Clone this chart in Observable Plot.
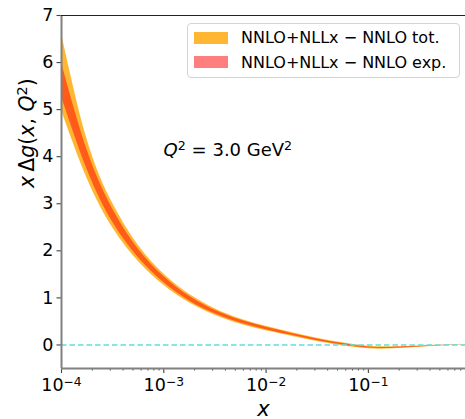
<!DOCTYPE html>
<html><head><meta charset="utf-8">
<script src="https://cdn.jsdelivr.net/npm/d3@7"></script>
<script src="https://cdn.jsdelivr.net/npm/@observablehq/plot@0.6"></script>
<style>
body{margin:0;background:#fff;}
#wrap{position:relative;width:465px;height:419px;font-family:"DejaVu Sans";overflow:hidden;}
#legend{position:absolute;left:187px;top:23px;width:273px;height:55px;border:1px solid #d4d4d4;border-radius:4px;background:rgba(255,255,255,0.8);box-sizing:border-box;}
.row{position:absolute;left:0;height:13px;display:flex;align-items:center;font-size:16px;white-space:nowrap;color:#000;}
.sw{width:34px;height:12px;margin-left:6px;margin-right:13px;flex:none;}
</style></head>
<body><div id="wrap"><div id="legend"></div></div>
<script>
// ---- data ----
const xs     = [1e-4, 1.78e-4, 3.16e-4, 5.62e-4, 1e-3, 1.78e-3, 3.16e-3, 5.62e-3, 1e-2, 1.78e-2, 3.16e-2, 5.62e-2, 1e-1, 1.78e-1, 3.16e-1, 5.62e-1, 1];
const totLo  = [4.98, 3.535, 2.49, 1.78, 1.27, 0.895, 0.63, 0.441, 0.303, 0.185, 0.075, -0.016, -0.083, -0.082, -0.05, -0.018, -0.002];
const totHi  = [6.62, 4.365, 3.01, 2.12, 1.51, 1.075, 0.77, 0.553, 0.397, 0.265, 0.145, 0.046, -0.027, -0.038, -0.02, -0.002, 0.002];
const expLo  = [5.28, 3.73, 2.61, 1.86, 1.325, 0.935, 0.662, 0.466, 0.325, 0.204, 0.092, 0.000, -0.067, -0.07, -0.042, -0.013, -0.001];
const expHi  = [6.00, 4.14, 2.89, 2.04, 1.455, 1.035, 0.738, 0.528, 0.375, 0.246, 0.128, 0.030, -0.043, -0.05, -0.028, -0.007, 0.001];
const xDomain = [1e-4, 0.89];
const yDomain = [-0.5, 7];
const xMajor = [1e-4, 1e-3, 1e-2, 1e-1];
const xMinor = [2e-4,3e-4,4e-4,5e-4,6e-4,7e-4,8e-4,9e-4,2e-3,3e-3,4e-3,5e-3,6e-3,7e-3,8e-3,9e-3,2e-2,3e-2,4e-2,5e-2,6e-2,7e-2,8e-2,9e-2,2e-1,3e-1,4e-1,5e-1,6e-1,7e-1,8e-1];
const yTicks = [0,1,2,3,4,5,6,7];
const seriesNames = ["NNLO+NLLx \u2212 NNLO tot.", "NNLO+NLLx \u2212 NNLO exp."];
const seriesColors = ["orange", "red"];
const seriesOpacity = [0.8, 0.5];
const annotation = "Q2 = 3.0 GeV2";

const rows = xs.map((x, i) => ({x, totLo: totLo[i], totHi: totHi[i], expLo: expLo[i], expHi: expHi[i]}));

const tickColor = "#444";
const svg = Plot.plot({
  width: 465, height: 419,
  marginTop: 15, marginBottom: 51, marginLeft: 61, marginRight: 0,
  style: {fontFamily: "DejaVu Sans", background: "white", overflow: "visible"},
  x: {type: "log", domain: xDomain},
  y: {domain: yDomain},
  marks: [
    Plot.areaY(rows, {x: "x", y1: "totLo", y2: "totHi", fill: seriesColors[0], fillOpacity: seriesOpacity[0], curve: "natural", clip: true}),
    Plot.areaY(rows, {x: "x", y1: "expLo", y2: "expHi", fill: seriesColors[1], fillOpacity: seriesOpacity[1], curve: "natural", clip: true}),
    Plot.ruleY([0], {stroke: "#5fdede", strokeWidth: 1.5, strokeDasharray: "5.5,3"}),
    Plot.axisX(xMinor, {tickSize: 2.5, tickFormat: () => "", label: null, stroke: tickColor, strokeWidth: 1}),
    Plot.axisX(xMajor, {tickSize: 5, tickPadding: 5, fontSize: 17.5, label: null, stroke: tickColor, fill: "black", strokeWidth: 1.1,
      tickFormat: d => "10^" + Math.round(Math.log10(d))}),
    Plot.axisY(yTicks, {tickSize: 4.5, tickPadding: 3.5, fontSize: 17.5, label: null, stroke: tickColor, fill: "black", strokeWidth: 1.1, tickFormat: d => String(d)}),
    Plot.ruleX([xDomain[0]], {stroke: "#808080", strokeWidth: 2}),
    Plot.ruleY([yDomain[0]], {stroke: "#808080", strokeWidth: 1.8}),
    Plot.ruleY([yDomain[1]], {stroke: "#222", strokeWidth: 1.1}),
    Plot.text(["ylabel"], {frameAnchor: "left", dx: -34.5, dy: -4, rotate: -90, text: d => d, fontSize: 20.5, lineAnchor: "middle"}),
    Plot.text(["xlabel"], {frameAnchor: "bottom", dy: 47, text: d => d, fontSize: 21, lineAnchor: "bottom"}),
    Plot.text([annotation], {frameAnchor: "top-left", dx: 102, dy: 140, text: d => d, fontSize: 18, textAnchor: "start", lineAnchor: "bottom"})
  ]
});

const S = d3.select(svg);
function richLabel(t, parts) {
  t.text(null);
  for (const p of parts) {
    const ts = t.append("tspan").text(p.t);
    if (p.i) ts.attr("font-style", "italic");
    if (p.dy) ts.attr("dy", p.dy);
    if (p.fs) ts.attr("font-size", p.fs);
  }
}
S.selectAll('text').each(function() {
  const t = d3.select(this);
  const s = t.text();
  if (s.includes("^")) {
    const [b, e] = s.split("^");
    richLabel(t, [{t: b}, {t: e.replace("-", "\u2212"), dy: "-0.42em", fs: "0.7em"}]);
  } else if (s === "ylabel") {
    richLabel(t, [
      {t: "x", i: 1}, {t: "\u2009\u0394"}, {t: "g", i: 1}, {t: "("}, {t: "x", i: 1}, {t: ", "}, {t: "Q", i: 1},
      {t: "2", dy: "-0.45em", fs: "0.7em"}, {t: ")", dy: "0.315em"}
    ]);
  } else if (s === "xlabel") {
    richLabel(t, [{t: "x", i: 1}]);
  } else if (s === annotation) {
    richLabel(t, [
      {t: "Q", i: 1}, {t: "2", dy: "-0.45em", fs: "0.7em"}, {t: "\u2004= 3.0 GeV", dy: "0.315em"}, {t: "2", dy: "-0.45em", fs: "0.7em"}
    ]);
  }
});

const wrap = document.getElementById("wrap");
wrap.insertBefore(svg, wrap.firstChild);
const legend = document.getElementById("legend");
const tops = [7, 31.5];
seriesNames.forEach((name, i) => {
  const r = document.createElement("div");
  r.className = "row";
  r.style.top = tops[i] + "px";
  const sw = document.createElement("div");
  sw.className = "sw";
  sw.style.background = seriesColors[i];
  sw.style.opacity = seriesOpacity[i];
  r.appendChild(sw);
  const tx = document.createElement("span");
  tx.textContent = name;
  r.appendChild(tx);
  legend.appendChild(r);
});
</script>
</body></html>
